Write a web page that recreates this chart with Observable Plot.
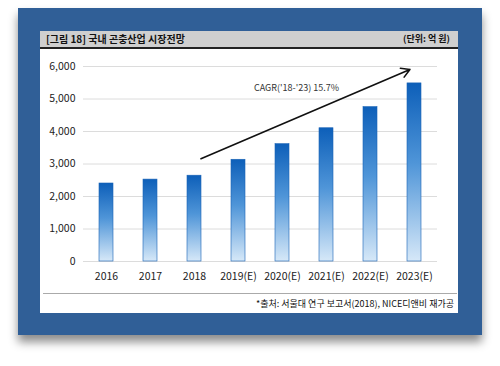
<!DOCTYPE html>
<html><head><meta charset="utf-8">
<script src="https://cdn.jsdelivr.net/npm/d3@7"></script>
<script src="https://cdn.jsdelivr.net/npm/@observablehq/plot@0.6"></script>
<style>
html,body{margin:0;padding:0;background:#fff;width:500px;height:366px;overflow:hidden;font-family:"Noto Sans CJK KR","Noto Sans",sans-serif;}
#frame{position:absolute;left:18px;top:8px;width:464px;height:327px;background:#305f97;box-shadow:0 7px 9px rgba(0,0,0,0.45);}
#panel{position:absolute;left:40px;top:31px;width:418px;height:282px;background:#fff;}
#titlebar{position:absolute;left:0;top:0;width:418px;height:16px;background:#cfcfcf;border-bottom:2px solid #222;}
#title{position:absolute;left:6px;top:0px;font-size:10px;font-weight:bold;line-height:16px;color:#111;}
#unit{position:absolute;right:8px;top:0px;font-size:9px;font-weight:bold;line-height:16px;color:#111;}
#chart{position:absolute;left:0;top:17px;}
#capline{position:absolute;left:3px;top:262px;width:414px;height:1px;background:#aaa;}
#caption{position:absolute;right:4px;top:266px;font-size:9px;line-height:14px;color:#111;}
</style></head>
<body>
<div id="frame"></div>
<div id="panel">
  <div id="titlebar"><div id="title"></div><div id="unit"></div></div>
  <div id="chart"></div>
  <div id="capline"></div>
  <div id="caption"></div>
</div>
<script>
const titleText = "[그림 18] 국내 곤충산업 시장전망";
const unitText = "(단위: 억 원)";
const captionText = "*출처: 서울대 연구 보고서(2018), NICE디앤비 재가공";
const years = ["2016","2017","2018","2019(E)","2020(E)","2021(E)","2022(E)","2023(E)"];
const values = [2400, 2520, 2640, 3130, 3610, 4100, 4750, 5480];
const yTicks = [0, 1000, 2000, 3000, 4000, 5000, 6000];
const arrowFrom = ["2018", 3080];
const arrowTo = ["2023(E)", 5970];
const cagrLabel = "CAGR('18-'23) 15.7%";
const cagrPos = ["2020(E)", 5330];

document.getElementById("title").textContent = titleText;
document.getElementById("unit").textContent = unitText;
document.getElementById("caption").textContent = captionText;

const data = years.map((y, i) => ({year: y, value: values[i]}));

const chart = Plot.plot({
  width: 418,
  height: 245,
  marginLeft: 43,
  marginRight: 21,
  marginTop: 18,
  marginBottom: 32,
  style: {fontFamily: "'Noto Sans CJK KR','Noto Sans',sans-serif", fontSize: "10.5px", color: "#222", background: "transparent"},
  x: {domain: years, paddingInner: 0.68, paddingOuter: 0.34, label: null, tickSize: 0, tickPadding: 11},
  y: {domain: [0, 6000], ticks: yTicks, label: null, tickSize: 0, tickPadding: 8, tickFormat: d3.format(",")},
  marks: [
    Plot.gridY(yTicks, {stroke: "#dcdcdc", strokeOpacity: 1, strokeWidth: 1}),
    Plot.barY(data, {x: "year", y: "value", fill: "url(#barGrad)", stroke: "#1a63b5", strokeWidth: 0.6}),
    Plot.arrow([{x1: arrowFrom[0], y1: arrowFrom[1], x2: arrowTo[0], y2: arrowTo[1]}], {
      x1: "x1", y1: "y1", x2: "x2", y2: "y2", stroke: "#111", strokeWidth: 1.6,
      headLength: 9, insetStart: 7, insetEnd: 5, bend: 0
    }),
    Plot.text([{x: cagrPos[0], y: cagrPos[1], t: cagrLabel}], {
      x: "x", y: "y", text: "t", dx: 14, fontSize: 9, fill: "#333"
    })
  ]
});

const ns = "http://www.w3.org/2000/svg";
const defs = document.createElementNS(ns, "defs");
const grad = document.createElementNS(ns, "linearGradient");
grad.setAttribute("id", "barGrad");
grad.setAttribute("x1", "0"); grad.setAttribute("y1", "0");
grad.setAttribute("x2", "0"); grad.setAttribute("y2", "1");
[["0%", "#0d5fb9"], ["45%", "#4f95d8"], ["100%", "#d6e8f8"]].forEach(([o, c]) => {
  const s = document.createElementNS(ns, "stop");
  s.setAttribute("offset", o); s.setAttribute("stop-color", c);
  grad.appendChild(s);
});
defs.appendChild(grad);
chart.insertBefore(defs, chart.firstChild);
document.getElementById("chart").appendChild(chart);
</script>
</body></html>
